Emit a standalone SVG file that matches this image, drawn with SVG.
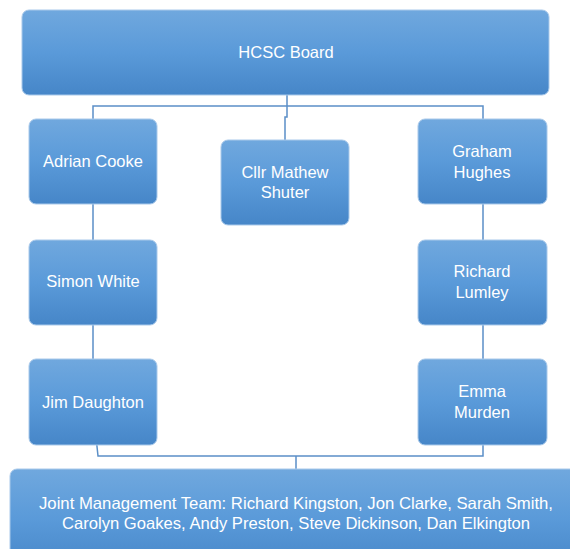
<svg xmlns="http://www.w3.org/2000/svg" width="570" height="549" viewBox="0 0 570 549">
<defs>
<linearGradient id="g" x1="0" y1="0" x2="0" y2="1">
<stop offset="0" stop-color="#70a8de"/>
<stop offset="0.5" stop-color="#5a9ad9"/>
<stop offset="1" stop-color="#4686c8"/>
</linearGradient>
<style>
.box{fill:url(#g);stroke:#a9c9ea;stroke-width:1}
.t{font-family:"Liberation Sans",Arial,sans-serif;font-size:16.5px;fill:#ffffff;text-anchor:middle}
.c{fill:none;stroke:#5b8fc7;stroke-width:1.5}
</style>
</defs>
<rect width="570" height="549" fill="#ffffff"/>
<g id="connectors">
<path class="c" d="M287 95 V106 M93 119 V106 H483 V119"/>
<path class="c" d="M287 106 V117 H285 V140"/>
<path class="c" d="M93 204 V240 M93 325 V359"/>
<path class="c" d="M483 204 V240 M483 325 V359"/>
<path class="c" d="M96 437 L98 456 H483 V445 M296 456 V469"/>
</g>
<g id="board"><rect class="box" x="22" y="10" width="527" height="85" rx="7"/><text class="t" x="286" y="58">HCSC Board</text></g>
<g id="adrian"><rect class="box" x="29" y="119" width="128" height="85" rx="7"/><text class="t" x="93" y="167">Adrian Cooke</text></g>
<g id="mathew"><rect class="box" x="221" y="140" width="128" height="85" rx="7"/><text class="t" x="285" y="178">Cllr Mathew</text><text class="t" x="285" y="198">Shuter</text></g>
<g id="graham"><rect class="box" x="418" y="119" width="129" height="85" rx="7"/><text class="t" x="482" y="157">Graham</text><text class="t" x="482" y="178">Hughes</text></g>
<g id="simon"><rect class="box" x="29" y="240" width="128" height="85" rx="7"/><text class="t" x="93" y="287">Simon White</text></g>
<g id="richard"><rect class="box" x="418" y="240" width="129" height="85" rx="7"/><text class="t" x="482" y="277">Richard</text><text class="t" x="482" y="298">Lumley</text></g>
<g id="jim"><rect class="box" x="29" y="359" width="128" height="86" rx="7"/><text class="t" x="93" y="408">Jim Daughton</text></g>
<g id="emma"><rect class="box" x="418" y="359" width="129" height="86" rx="7"/><text class="t" x="482" y="397">Emma</text><text class="t" x="482" y="418">Murden</text></g>
<g id="jmt"><rect class="box" x="10" y="469" width="580" height="100" rx="7"/><text class="t" x="296" y="509" textLength="514" lengthAdjust="spacingAndGlyphs">Joint Management Team: Richard Kingston, Jon Clarke, Sarah Smith,</text><text class="t" x="296" y="529" textLength="468" lengthAdjust="spacingAndGlyphs">Carolyn Goakes, Andy Preston, Steve Dickinson, Dan Elkington</text></g>
</svg>
